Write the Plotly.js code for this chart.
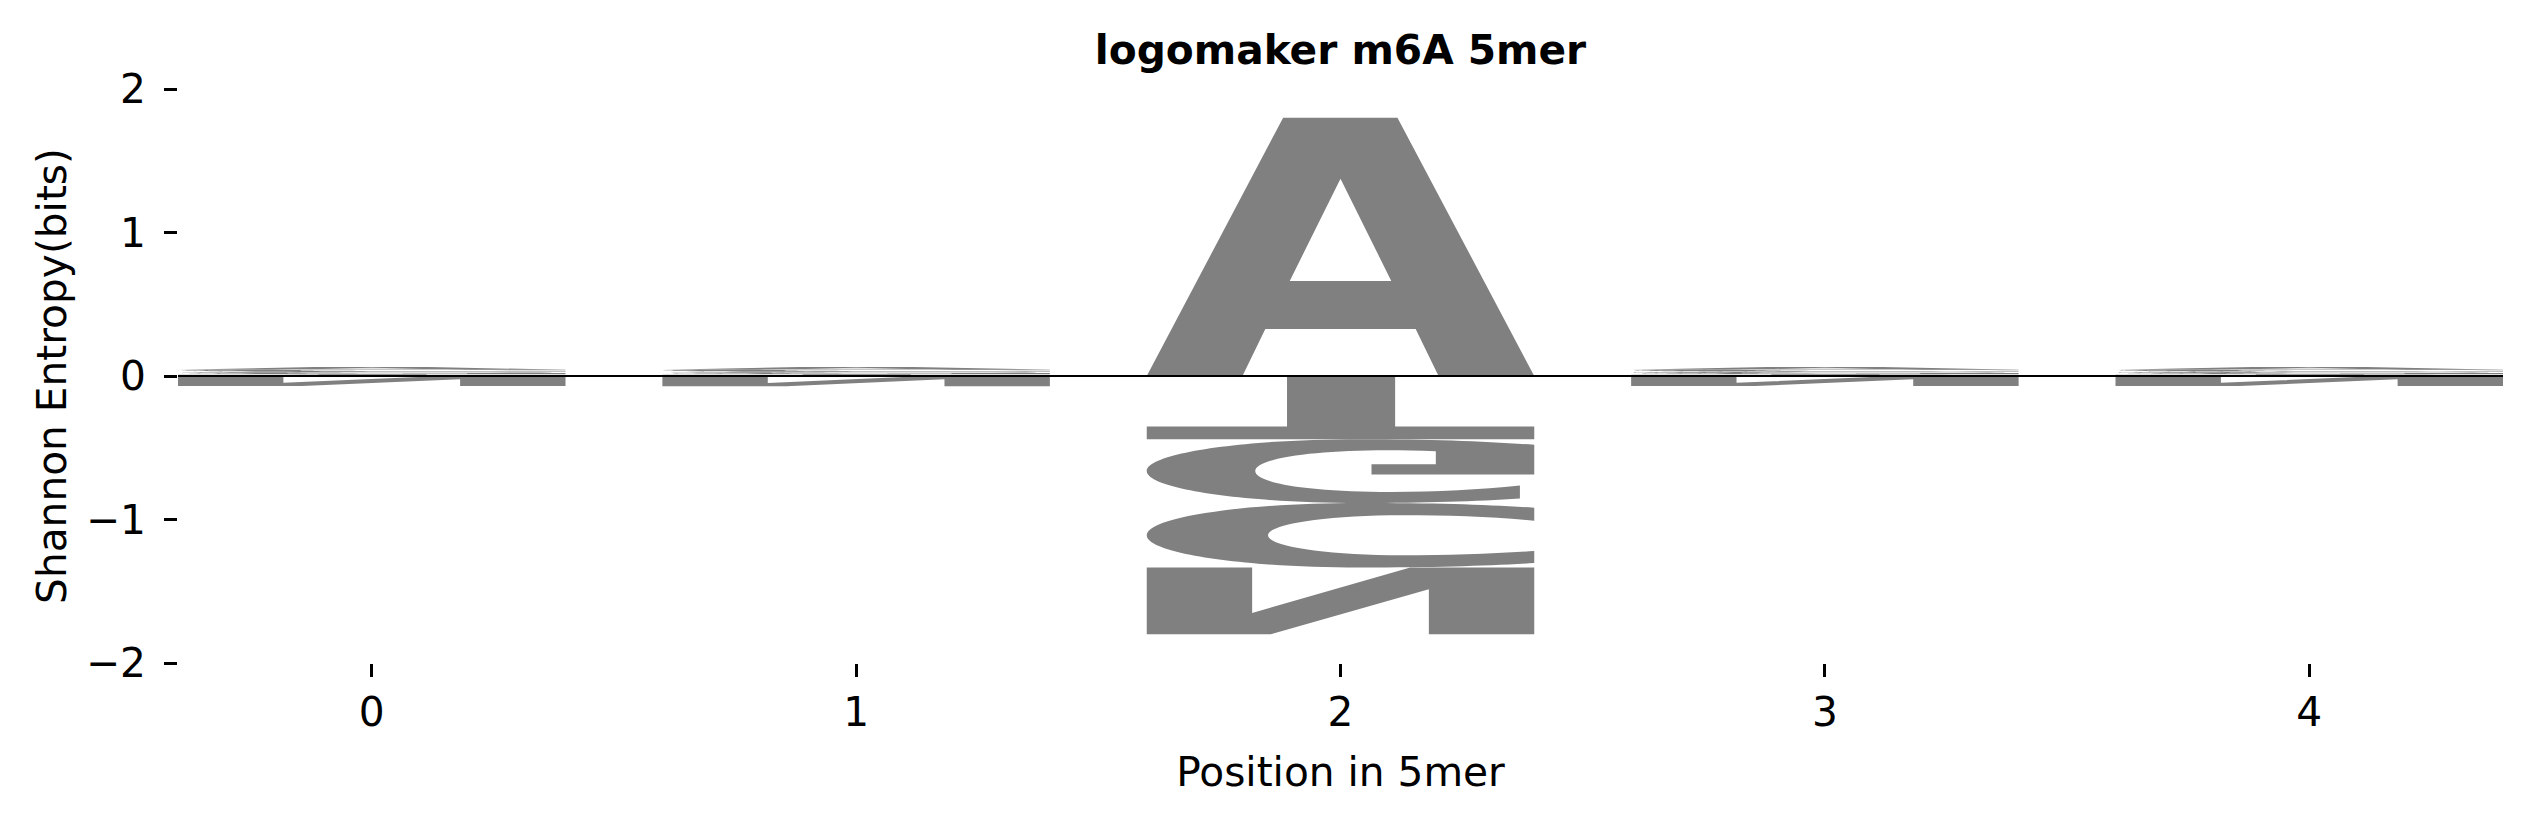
<!DOCTYPE html>
<html>
<head>
<meta charset="utf-8">
<script src="https://cdn.plot.ly/plotly-3.0.1.min.js"></script>
<style>html,body{margin:0;padding:0;background:#fff;}#chart{width:2534px;height:825px;}</style>
</head>
<body>
<div id="chart"></div>
<script>
// ---------------- data ----------------
const positions = [0, 1, 2, 3, 4];
const tickLabels = ['0', '1', '2', '3', '4'];
const letters = ['A', 'C', 'G', 'T', 'N'];
const valsA = [0.018, 0.018, 1.80, 0.018, 0.018];
const valsC = [0.016, 0.016, -0.45, 0.016, 0.016];
const valsG = [0.015, 0.015, -0.445, 0.015, 0.015];
const valsT = [0.013, 0.013, -0.44, 0.013, 0.013];
const valsN = [-0.07, -0.072, -0.465, -0.07, -0.07];
const yTicks = [-2, -1, 0, 1, 2];

const chartTitle = 'logomaker m6A 5mer';
const xTitle = 'Position in 5mer';
const yTitle = 'Shannon Entropy(bits)';

// ---------------- glyph outlines (unit box, y up) ----------------
const GLYPHS = {
  A: [
    [['M',0,0],['L',0.352,1],['L',0.647,1],['L',1,0],['L',0.753,0],['L',0.694,0.182],['L',0.306,0.182],['L',0.247,0],['Z']],
    [['M',0.369,0.368],['L',0.5,0.764],['L',0.631,0.368],['Z']]
  ],
  T: [
    [['M',0,1],['L',1,1],['L',1,0.8],['L',0.641,0.8],['L',0.641,0],['L',0.362,0],['L',0.362,0.8],['L',0,0.8],['Z']]
  ],
  N: [
    [['M',0,0],['L',0,1],['L',0.32,1],['L',0.728,0.326],['L',0.728,1],['L',1,1],['L',1,0],['L',0.68,0],['L',0.272,0.68],['L',0.272,0],['Z']]
  ],
  C: [
    [['M',1,0.931],
     ['C',0.88,0.975,0.75,1,0.55,1],
     ['C',0.246,1,0,0.776,0,0.5],
     ['C',0,0.224,0.246,0,0.55,0],
     ['C',0.75,0,0.88,0.025,1,0.074],
     ['L',1,0.274],
     ['C',0.9,0.215,0.78,0.19,0.66,0.19],
     ['C',0.46,0.19,0.313,0.33,0.313,0.5],
     ['C',0.313,0.67,0.46,0.81,0.66,0.81],
     ['C',0.78,0.81,0.9,0.785,1,0.743],
     ['Z']]
  ],
  G: [
    [['M',0.963,0.93],
     ['C',0.85,0.975,0.72,1,0.55,1],
     ['C',0.246,1,0,0.776,0,0.5],
     ['C',0,0.224,0.246,0,0.55,0],
     ['C',0.74,0,0.88,0.035,1,0.087],
     ['L',1,0.552],['L',0.58,0.552],['L',0.58,0.395],['L',0.746,0.395],['L',0.746,0.19],
     ['C',0.70,0.178,0.66,0.174,0.62,0.174],
     ['C',0.42,0.174,0.28,0.31,0.28,0.5],
     ['C',0.28,0.69,0.42,0.826,0.63,0.826],
     ['C',0.75,0.826,0.86,0.79,0.963,0.727],
     ['Z']]
  ]
};

const GLYPH_WIDTH = 0.8;
const GLYPH_COLOR = '#808080';

function glyphPath(letter, center, yEdge, h, flip) {
  const x0 = center - GLYPH_WIDTH / 2;
  const mx = ux => (x0 + GLYPH_WIDTH * ux).toFixed(5);
  const my = uy => (flip ? yEdge - h * uy : yEdge + h * uy).toFixed(5);
  let d = '';
  GLYPHS[letter].forEach(sub => {
    sub.forEach(seg => {
      const cmd = seg[0];
      if (cmd === 'Z') { d += 'Z'; return; }
      const pts = [];
      for (let i = 1; i < seg.length; i += 2) pts.push(mx(seg[i]) + ',' + my(seg[i + 1]));
      d += cmd + pts.join(' ');
    });
  });
  return d;
}

const series = { A: valsA, C: valsC, G: valsG, T: valsT, N: valsN };
const shapes = [];
positions.forEach((p, i) => {
  const entries = letters.map(l => ({ l, v: series[l][i] }));
  const pos = entries.filter(e => e.v > 0).sort((a, b) => a.v - b.v);
  const neg = entries.filter(e => e.v < 0).sort((a, b) => b.v - a.v);
  let cum = 0;
  pos.forEach(e => {
    shapes.push({ type: 'path', xref: 'x', yref: 'y', path: glyphPath(e.l, p, cum, e.v, false),
      fillcolor: GLYPH_COLOR, fillrule: 'evenodd', line: { width: 0 }, layer: 'above' });
    cum += e.v;
  });
  cum = 0;
  neg.forEach(e => {
    const h = -e.v;
    shapes.push({ type: 'path', xref: 'x', yref: 'y', path: glyphPath(e.l, p, cum, h, true),
      fillcolor: GLYPH_COLOR, fillrule: 'evenodd', line: { width: 0 }, layer: 'above' });
    cum -= h;
  });
});
// baseline
shapes.push({ type: 'line', xref: 'paper', yref: 'y', x0: 0, x1: 1, y0: 0, y1: 0,
  line: { color: '#000', width: 2 }, layer: 'above' });

const FONT = { family: 'DejaVu Sans', size: 40.7, color: '#000' };

const layout = {
  width: 2534, height: 825,
  margin: { l: 178, r: 31, t: 89, b: 162, pad: 0 },
  paper_bgcolor: '#fff', plot_bgcolor: '#fff',
  showlegend: false,
  font: FONT,
  title: { text: '<b>' + chartTitle + '</b>', font: FONT, x: 0.5, xref: 'paper',
           y: 1 - 50 / 825, yref: 'container', yanchor: 'middle' },
  xaxis: {
    range: [-0.4, 4.4], tickmode: 'array', tickvals: positions, ticktext: tickLabels,
    ticks: 'outside', ticklen: 13, tickwidth: 3, tickcolor: '#000',
    showgrid: false, zeroline: false, showline: false, automargin: false,
    tickfont: FONT, ticklabelstandoff: 0,
    title: { text: xTitle, font: FONT, standoff: 22 }
  },
  yaxis: {
    range: [-2, 2], tickmode: 'array', tickvals: yTicks,
    ticks: 'outside', ticklen: 13, tickwidth: 3, tickcolor: '#000',
    showgrid: false, zeroline: false, showline: false, automargin: false,
    tickfont: FONT, ticklabelstandoff: 10,
    title: { text: yTitle, font: FONT, standoff: 6 }
  },
  shapes: shapes
};

Plotly.newPlot('chart', [{ x: [], y: [], type: 'scatter', mode: 'markers', hoverinfo: 'skip' }], layout,
  { displayModeBar: false, staticPlot: true });
</script>
</body>
</html>
